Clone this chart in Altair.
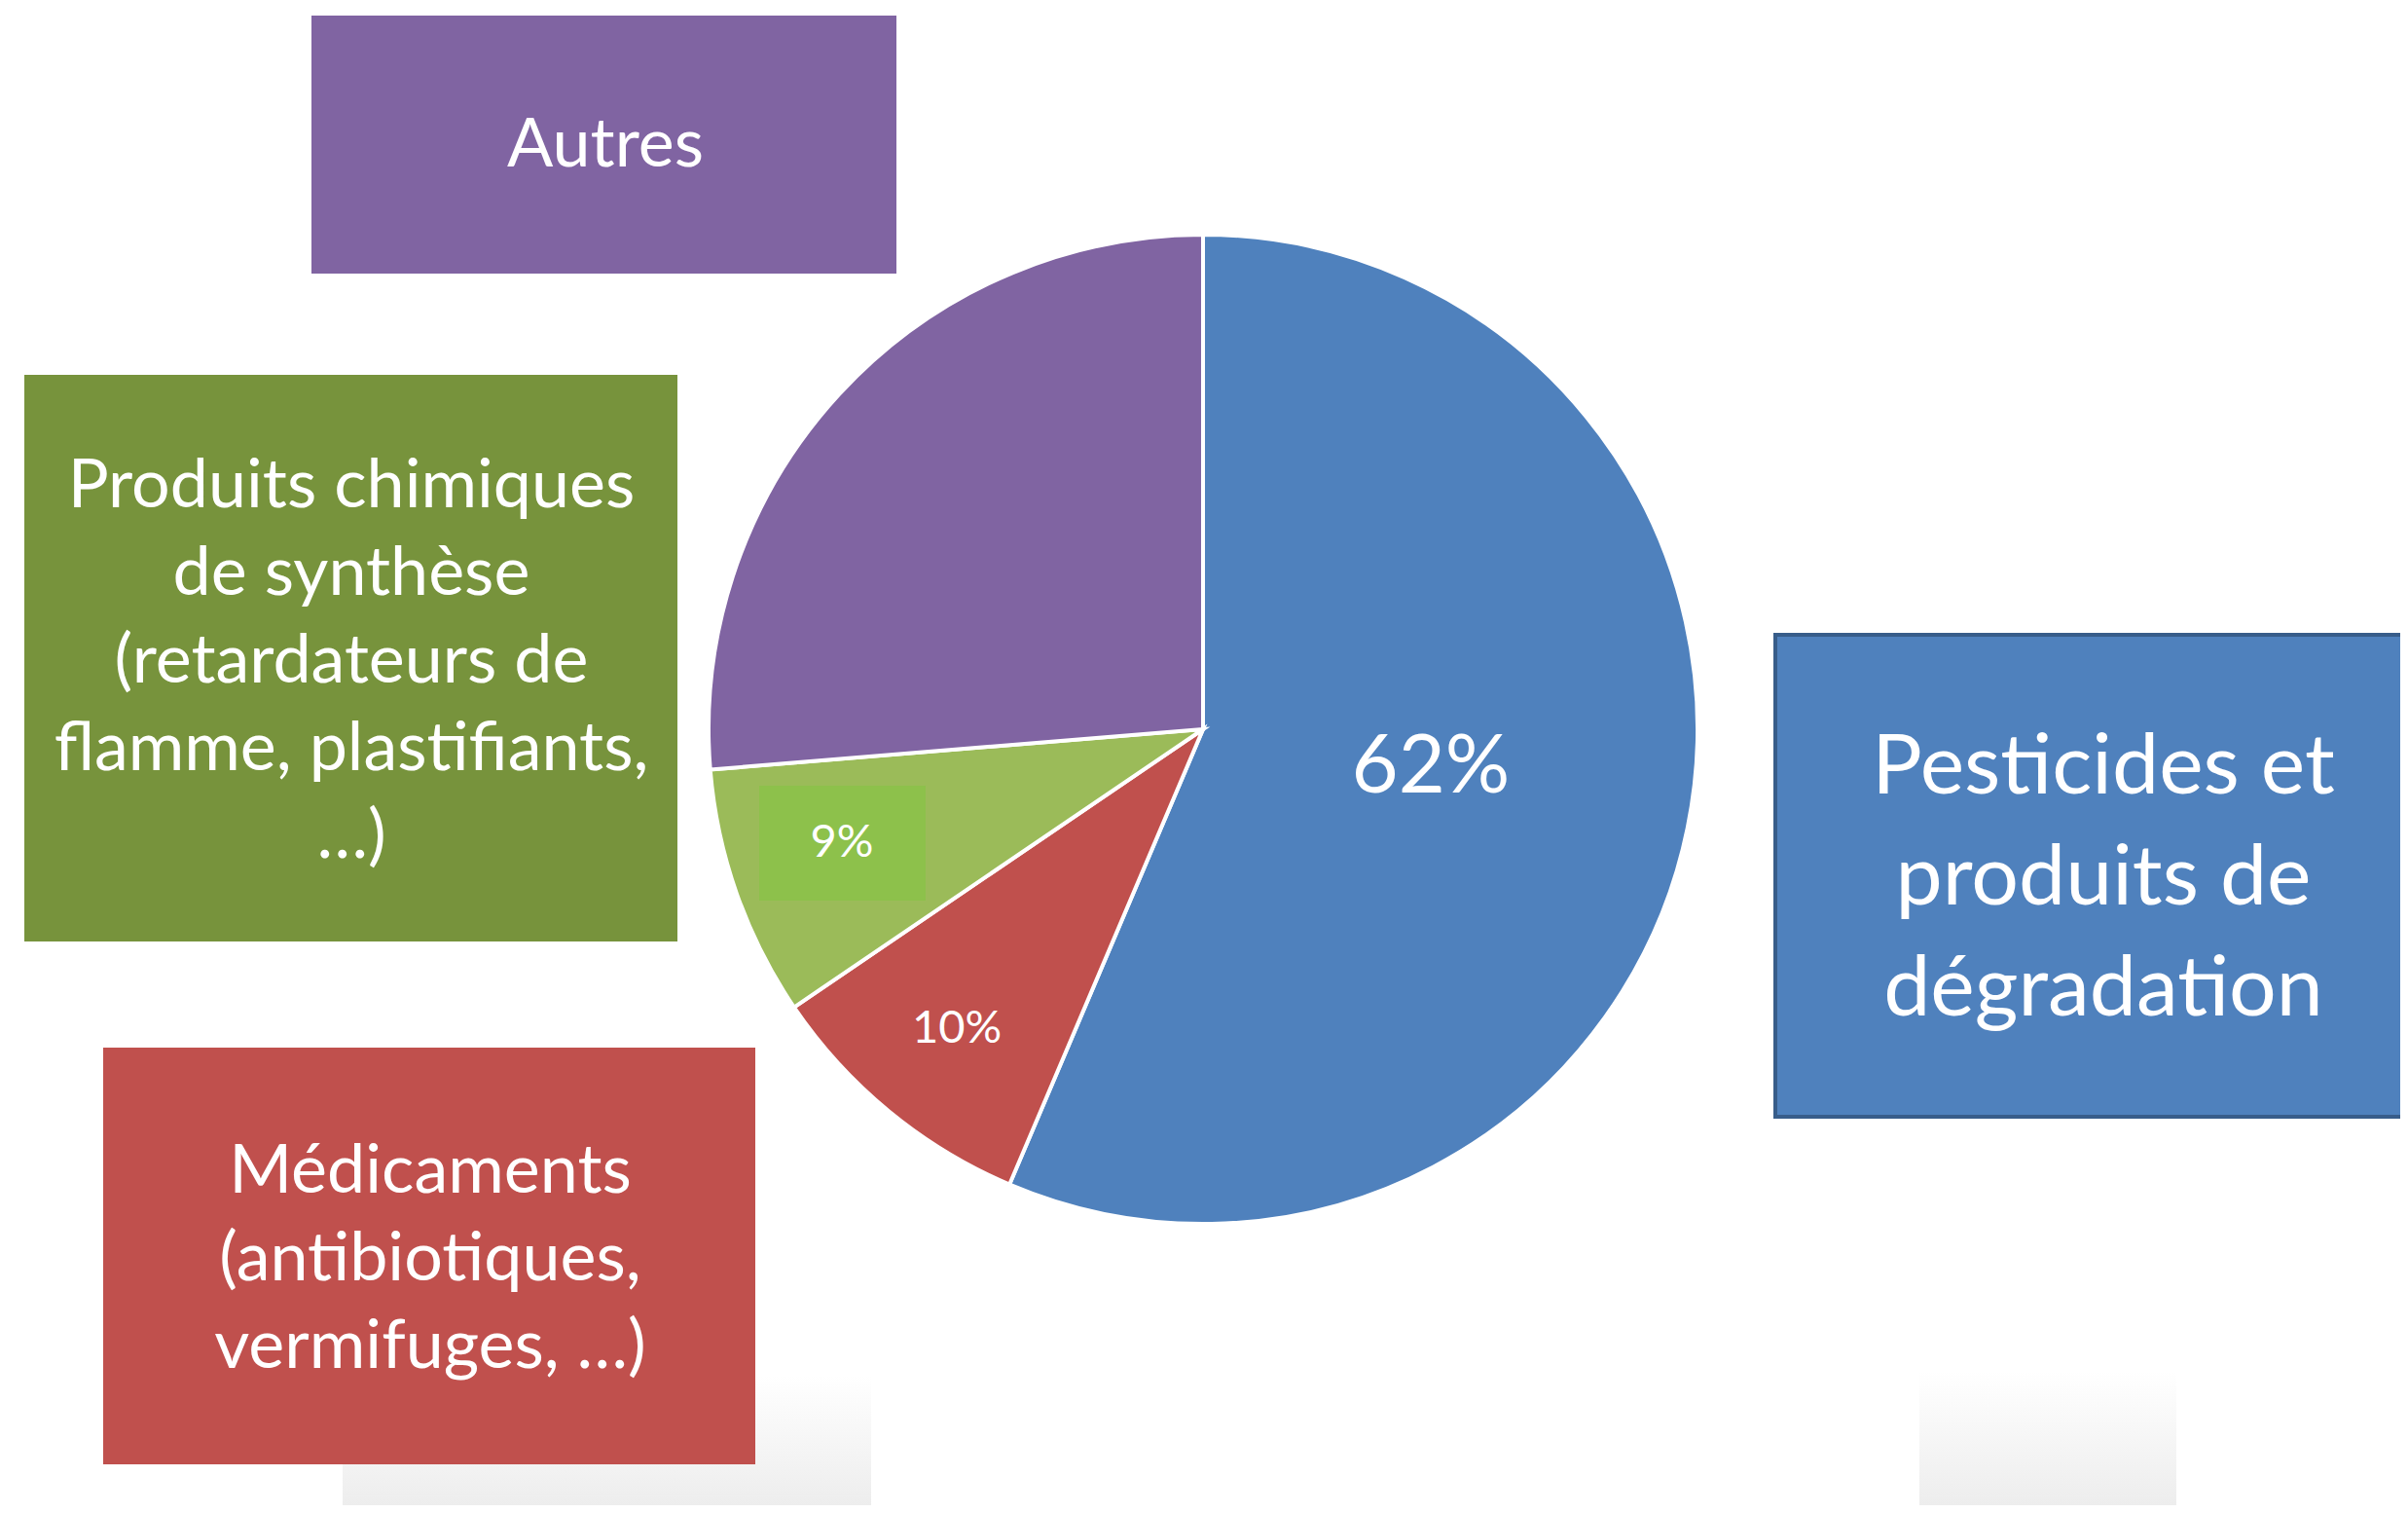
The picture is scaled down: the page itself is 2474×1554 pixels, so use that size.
import altair as alt
import pandas as pd

# ---- data ----
categories = ["Pesticides et produits de dégradation", "Médicaments",
              "Produits chimiques de synthèse", "Autres"]
values = [56.4, 9.1, 8.2, 26.3]          # slice sizes as drawn (share of the circle, %)
pct_labels = ["62%", "10%", "9%", ""]    # labels printed on the slices
slice_colors = ["#4F81BD", "#C0504D", "#9BBB59", "#8064A2"]

box_texts = ["Pesticides et\nproduits de\ndégradation",
             "Médicaments\n(antibiotiques,\nvermifuges, …)",
             "Produits chimiques\nde synthèse\n(retardateurs de\nflamme, plastifiants,\n…)",
             "Autres"]
box_colors = ["#4F81BD", "#C0504D", "#77933C", "#8064A2"]

# ---- layout (chart pixel coordinates) ----
FONT = "Lato"
CX, CY, R = 1228, 741, 508
box_layout = [  # rectangle, first-line text anchor, font size, line height
    dict(x1=1816, x2=2470, y1=644, y2=1139, tx=2153, ty=781, fs=86, lh=114, stroke="#385D8A"),
    dict(x1=98, x2=768, y1=1068, y2=1496, tx=434, ty=1196, fs=70, lh=90, stroke=None),
    dict(x1=17, x2=688, y1=377, y2=959, tx=353, ty=492, fs=70, lh=90, stroke=None),
    dict(x1=312, x2=913, y1=8, y2=273, tx=614, ty=142, fs=70, lh=90, stroke=None),
]
pct_layout = [
    dict(x=1462, y=781, fs=83),
    dict(x=975, y=1049, fs=47),
    dict(x=857, y=858, fs=47),
    dict(x=0, y=0, fs=10),
]
shadow_layout = [
    dict(x1=344, x2=887, y1=1405, y2=1546),
    dict(x1=1964, x2=2228, y1=1400, y2=1546),
]

df = pd.DataFrame({"cat": categories, "value": values, "order": list(range(len(categories))),
                   "label": pct_labels})

one = pd.DataFrame({"a": [0]})
layers = []

# faint grey shadows at the bottom of the slide
for s in shadow_layout:
    layers.append(alt.Chart(one).mark_rect(
        color=alt.LinearGradient(
            gradient="linear", x1=0, y1=0, x2=0, y2=1,
            stops=[alt.GradientStop(color="#ffffff", offset=0),
                   alt.GradientStop(color="#ececec", offset=1)])
    ).encode(x=alt.value(s["x1"]), x2=alt.value(s["x2"]),
             y=alt.value(s["y1"]), y2=alt.value(s["y2"])))

pie = alt.Chart(df).mark_arc(radius=R, stroke="white", strokeWidth=4).encode(
    theta=alt.Theta("value:Q", stack=True),
    order=alt.Order("order:Q"),
    color=alt.Color("cat:N", scale=alt.Scale(domain=categories, range=slice_colors), legend=None),
    x=alt.value(CX), y=alt.value(CY),
)
layers.append(pie)

# highlighted background behind the "9%" label
layers.append(alt.Chart(one).mark_rect(color="#8DC14B").encode(
    x=alt.value(772), x2=alt.value(943), y=alt.value(799), y2=alt.value(917)))

for i, lay in enumerate(pct_layout):
    if not pct_labels[i]:
        continue
    layers.append(alt.Chart(df.iloc[[i]]).mark_text(
        font=FONT, fontSize=lay["fs"], color="white", align="center", baseline="middle"
    ).encode(text="label:N", x=alt.value(lay["x"]), y=alt.value(lay["y"])))

for i, lay in enumerate(box_layout):
    rect_kwargs = dict(color=box_colors[i])
    if lay["stroke"]:
        rect_kwargs.update(stroke=lay["stroke"], strokeWidth=4)
    layers.append(alt.Chart(one).mark_rect(**rect_kwargs).encode(
        x=alt.value(lay["x1"]), x2=alt.value(lay["x2"]),
        y=alt.value(lay["y1"]), y2=alt.value(lay["y2"])))
    tdf = pd.DataFrame({"t": [box_texts[i]]})
    layers.append(alt.Chart(tdf).mark_text(
        font=FONT, fontSize=lay["fs"], lineHeight=lay["lh"], lineBreak="\n",
        color="white", align="center", baseline="middle"
    ).encode(text="t:N", x=alt.value(lay["tx"]), y=alt.value(lay["ty"])))

chart = alt.layer(*layers).properties(
    width=2458, height=1538,
    autosize=alt.AutoSizeParams(type="fit", contains="padding"),
    padding=0, background="white",
).configure_view(stroke=None)

chart.save("out.html", embed_options={"renderer": "svg", "actions": False})
